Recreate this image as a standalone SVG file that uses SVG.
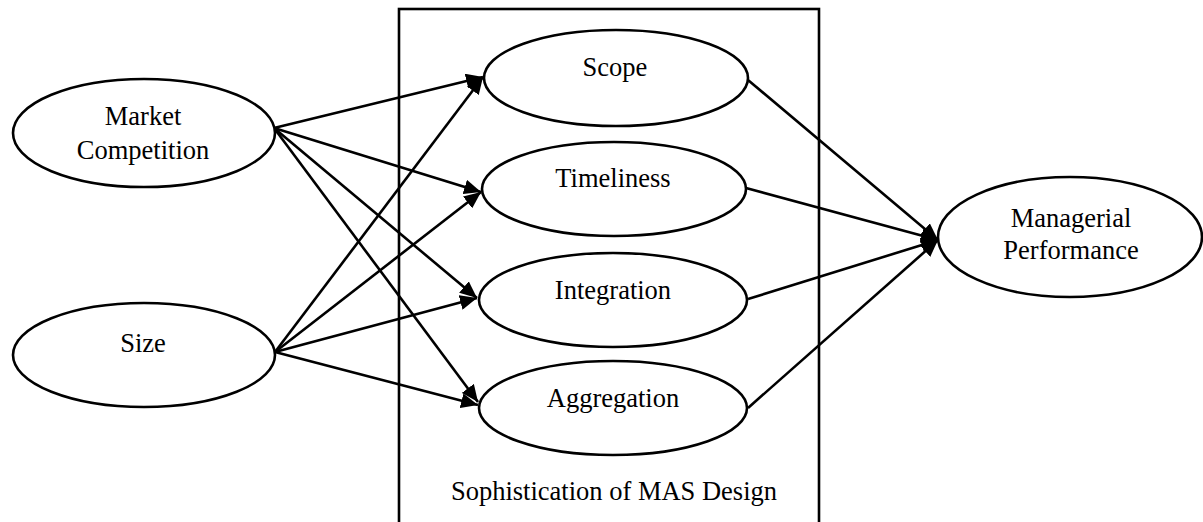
<svg xmlns="http://www.w3.org/2000/svg" width="1203" height="522" viewBox="0 0 1203 522">
<style>
.n{fill:#fff;stroke:#000;stroke-width:2.6}
.t{font-family:'Liberation Serif','Tinos','Times New Roman','DejaVu Serif',serif;font-size:26.5px;fill:#000;text-anchor:middle}
.c line{stroke:#000;stroke-width:2.6;marker-end:url(#ah)}
</style>
<defs>
<marker id="ah" markerUnits="userSpaceOnUse" viewBox="0 0 17 15" refX="17" refY="7.5" markerWidth="17" markerHeight="15" orient="auto">
<path d="M0,0 L17,7.5 L0,15 Z" fill="#000"/>
</marker>
</defs>
<g id="mas-box">
<rect x="399" y="9" width="420" height="540" fill="none" stroke="#000" stroke-width="2.6"/>
<text class="t" x="614" y="500">Sophistication of MAS Design</text>
</g>
<g class="c" id="connectors">
<line x1="274" y1="128" x2="483" y2="77"/>
<line x1="274" y1="128" x2="481" y2="192"/>
<line x1="274" y1="128" x2="477" y2="298"/>
<line x1="274" y1="128" x2="478" y2="402"/>
<line x1="275" y1="352" x2="483" y2="77"/>
<line x1="275" y1="352" x2="481" y2="192"/>
<line x1="275" y1="352" x2="477" y2="298"/>
<line x1="275" y1="352" x2="478" y2="405"/>
<line x1="748" y1="80" x2="938" y2="240"/>
<line x1="746" y1="188" x2="938" y2="240"/>
<line x1="748" y1="299" x2="938" y2="240"/>
<line x1="748" y1="408" x2="938" y2="240"/>
</g>
<g id="market-competition">
<ellipse class="n" cx="144" cy="133" rx="131" ry="54"/>
<text class="t" x="143" y="125">Market</text>
<text class="t" x="143" y="159">Competition</text>
</g>
<g id="size">
<ellipse class="n" cx="144" cy="355" rx="131" ry="52"/>
<text class="t" x="143" y="352">Size</text>
</g>
<g id="scope">
<ellipse class="n" cx="616" cy="78" rx="132" ry="48"/>
<text class="t" x="615" y="76">Scope</text>
</g>
<g id="timeliness">
<ellipse class="n" cx="614" cy="189" rx="132" ry="47"/>
<text class="t" x="613" y="187">Timeliness</text>
</g>
<g id="integration">
<ellipse class="n" cx="613" cy="300" rx="134" ry="47"/>
<text class="t" x="613" y="299">Integration</text>
</g>
<g id="aggregation">
<ellipse class="n" cx="613" cy="408" rx="134" ry="47"/>
<text class="t" x="613" y="407">Aggregation</text>
</g>
<g id="managerial-performance">
<ellipse class="n" cx="1070" cy="237" rx="132" ry="60"/>
<text class="t" x="1071" y="227">Managerial</text>
<text class="t" x="1071" y="259">Performance</text>
</g>
</svg>
